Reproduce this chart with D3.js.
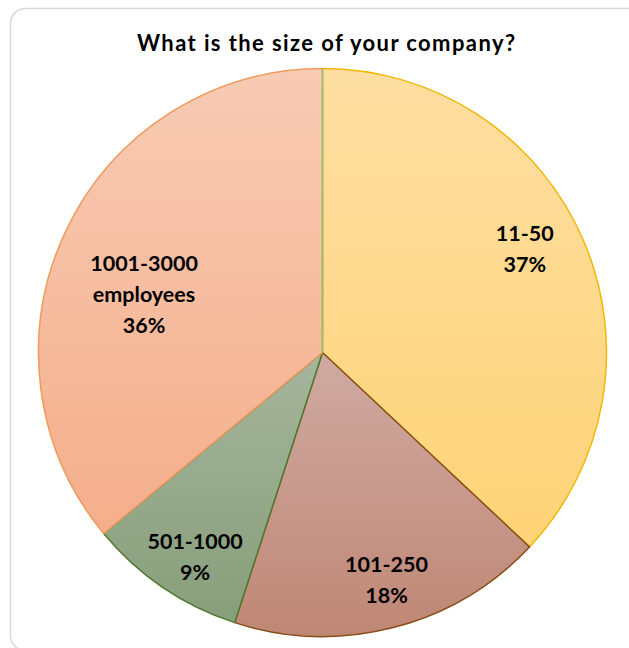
<!DOCTYPE html>
<html>
<head>
<meta charset="utf-8">
<script src="https://cdn.jsdelivr.net/npm/d3@7"></script>
<style>
  html, body { margin: 0; padding: 0; background: #fff; }
  svg { display: block; }
</style>
</head>
<body>
<svg id="chart" width="629" height="648"></svg>
<script>
// Company size survey results
const categories = ["11-50", "101-250", "501-1000", "1001-3000 employees"];
const labelLines = [["11-50"], ["101-250"], ["501-1000"], ["1001-3000", "employees"]];
const values = [37, 18, 9, 36];
const titleText = "What is the size of your company?";

const fillTop = ["#FDDEA2", "#CFAAA2", "#A6B59C", "#F8CBB4"];
const fillBottom = ["#FFD477", "#BF8775", "#879E7B", "#F4AE8B"];
const strokes = ["#F2B705", "#8A4B16", "#4E7A2E", "#EE9A5C"];
// best-fit label placement: distance (fraction of radius) and angular nudge (degrees)
const labelRadius = [0.80, 0.833, 0.849, 0.661];
const labelNudge = [-3.7, -1.3, -2.3, -7.1];

const svg = d3.select("#chart");
const cx = 322.5, cy = 352.5, R = 284;
const font = "Lato, 'Open Sans', sans-serif";

// Chart frame
svg.append("rect")
  .attr("x", 10.5).attr("y", 8.5)
  .attr("width", 640).attr("height", 642)
  .attr("rx", 15).attr("ry", 15)
  .attr("fill", "#fff")
  .attr("stroke", "#D9D9D9")
  .attr("stroke-width", 1.5);

// Title
svg.append("text")
  .attr("x", 326).attr("y", 51)
  .attr("text-anchor", "middle")
  .attr("font-family", font)
  .attr("font-weight", "bold")
  .attr("font-size", 22)
  .attr("textLength", 378)
  .attr("lengthAdjust", "spacing")
  .attr("fill", "#000")
  .text(titleText);

// Vertical gradients for each slice
const defs = svg.append("defs");
categories.forEach((c, i) => {
  const g = defs.append("linearGradient")
    .attr("id", "grad" + i)
    .attr("x1", 0).attr("y1", 0).attr("x2", 0).attr("y2", 1);
  g.append("stop").attr("offset", "0%").attr("stop-color", fillTop[i]);
  g.append("stop").attr("offset", "100%").attr("stop-color", fillBottom[i]);
});

const pie = d3.pie().sort(null).value(d => d)(values);
const arc = d3.arc().innerRadius(0).outerRadius(R);

const g = svg.append("g").attr("transform", `translate(${cx},${cy})`);

g.selectAll("path.slice")
  .data(pie)
  .join("path")
  .attr("class", "slice")
  .attr("d", arc)
  .attr("fill", (d, i) => `url(#grad${i})`)
  .attr("stroke", (d, i) => strokes[i])
  .attr("stroke-width", 1.5)
  .attr("stroke-linejoin", "round");

// Start radius at 12 o'clock
g.append("line")
  .attr("x1", 0).attr("y1", 0)
  .attr("x2", 0).attr("y2", -R)
  .attr("stroke", "#86C46A")
  .attr("stroke-width", 1.5);

// Data labels
const lineH = 31;
pie.forEach((d, i) => {
  const r = R * labelRadius[i];
  const a = (d.startAngle + d.endAngle) / 2 + labelNudge[i] * Math.PI / 180;
  const lx = r * Math.sin(a), ly = -r * Math.cos(a);
  const lines = labelLines[i].concat([values[i] + "%"]);
  const t = g.append("text")
    .attr("text-anchor", "middle")
    .attr("font-family", font)
    .attr("font-weight", "bold")
    .attr("font-size", 21.5)
    .attr("fill", "#000");
  const y0 = ly - (lines.length - 1) * lineH / 2 + 7.5;
  lines.forEach((s, k) => {
    t.append("tspan").attr("x", lx).attr("y", y0 + k * lineH).text(s);
  });
});
</script>
</body>
</html>
